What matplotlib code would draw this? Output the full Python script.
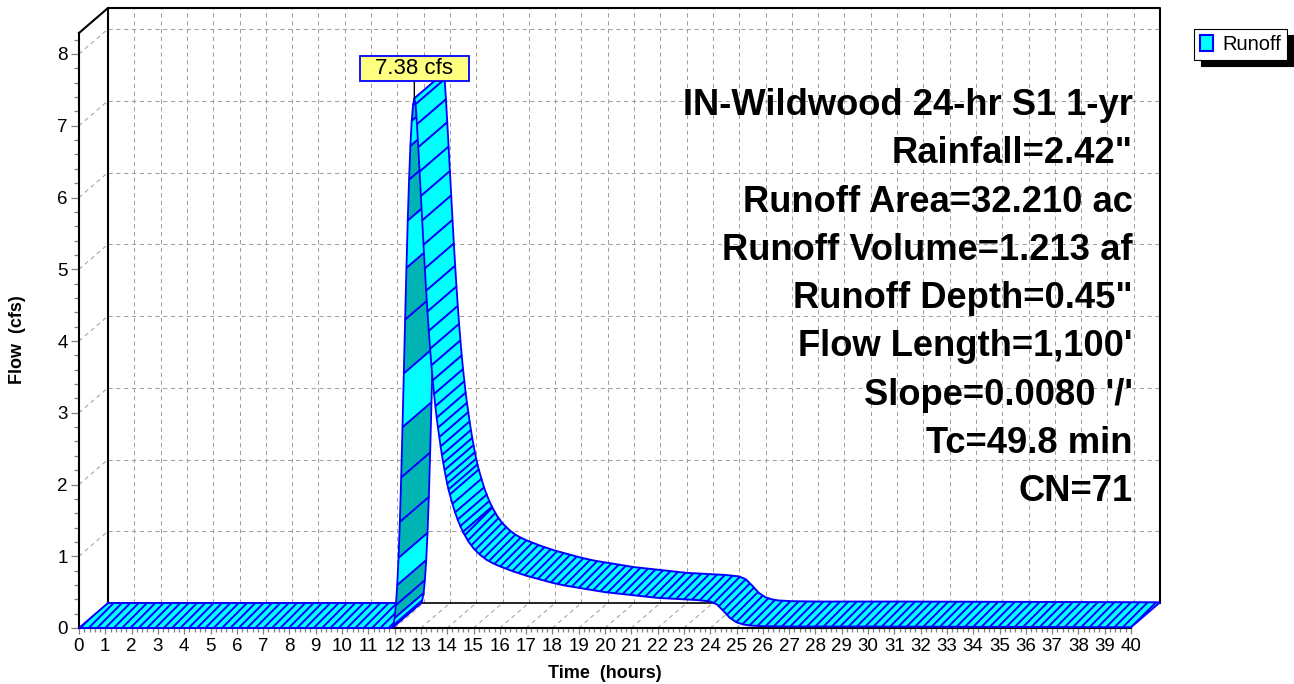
import numpy as np
import matplotlib.pyplot as plt
from matplotlib.patches import Polygon, Patch
from matplotlib.path import Path
from matplotlib.ticker import MultipleLocator

plt.rcParams['font.family'] = ['Liberation Sans', 'DejaVu Sans']
plt.rcParams['hatch.color'] = '#0000ff'
plt.rcParams['hatch.linewidth'] = 1.4

# Runoff hydrograph
t_hr = [0.00, 11.90,
        11.95, 12.00, 12.05, 12.10, 12.15, 12.20, 12.25, 12.30, 12.35, 12.40,
        12.45, 12.50, 12.55, 12.60, 12.65, 12.70, 12.75,
        12.80, 12.85, 12.90, 12.95, 13.00, 13.05, 13.10, 13.15, 13.20, 13.25,
        13.30, 13.35, 13.40, 13.45, 13.50, 13.55, 13.60, 13.65, 13.70, 13.75,
        13.80, 13.85, 13.90, 13.95, 14.00, 14.05, 14.10,
        14.20, 14.30, 14.40, 14.50, 14.60, 14.80, 15.00,
        15.25, 15.50, 15.75, 16.00,
        16.50, 17.00, 17.50, 18.00, 18.50, 19.00, 19.50, 20.00, 20.50, 21.00,
        21.50, 22.00, 22.50, 23.00, 23.50, 24.00,
        24.25, 24.50, 24.75, 25.00, 25.25, 25.50,
        26.00, 27.00, 30.00, 35.00, 40.00]
q_cfs = [0.00, 0.00,
         0.04, 0.14, 0.32, 0.60, 0.98, 1.48, 2.10, 2.80, 3.55, 4.30,
         5.02, 5.68, 6.25, 6.72, 7.07, 7.29, 7.38,
         7.30, 7.02, 6.70, 6.36, 6.02, 5.68, 5.34, 5.01, 4.70, 4.41,
         4.14, 3.89, 3.66, 3.45, 3.26, 3.09, 2.93, 2.79, 2.66, 2.53,
         2.41, 2.30, 2.20, 2.10, 2.01, 1.93, 1.86,
         1.73, 1.61, 1.51, 1.42, 1.34, 1.21, 1.11,
         1.02, 0.95, 0.90, 0.86,
         0.79, 0.73, 0.68, 0.63, 0.59, 0.56, 0.53, 0.50, 0.48, 0.46,
         0.44, 0.42, 0.41, 0.40, 0.39, 0.37,
         0.33, 0.24, 0.14, 0.08, 0.05, 0.035,
         0.025, 0.02, 0.02, 0.015, 0.01]

x_ticks = list(range(0, 41))
y_ticks = list(range(0, 9))
peak_label = '7.38 cfs'
legend_label = 'Runoff'
x_title = 'Time  (hours)'
y_title = 'Flow  (cfs)'
info_lines = ['IN-Wildwood 24-hr S1 1-yr',
              'Rainfall=2.42"',
              'Runoff Area=32.210 ac',
              'Runoff Volume=1.213 af',
              'Runoff Depth=0.45"',
              "Flow Length=1,100'",
              "Slope=0.0080 '/'",
              'Tc=49.8 min',
              'CN=71']

CYAN = '#00ffff'
TEAL = '#00b4b4'
BLUE = '#0000ff'

W, H = 1294, 684
fig = plt.figure(figsize=(W / 100, H / 100), dpi=100)

# front plane of the 3-D box (pixels)
L, R, B, T = 79, 1131, 628, 33
ax = fig.add_axes([L / W, 1 - B / H, (R - L) / W, (B - T) / H])
XMAX = x_ticks[-1]
YTOP = (B - T) / 71.75
ax.set_xlim(0, XMAX)
ax.set_ylim(0, YTOP)
sx = (R - L) / XMAX
sy = (B - T) / YTOP
DX, DY = 29 / sx, 25 / sy  # depth of the box

for s in ['top', 'right']:
    ax.spines[s].set_visible(False)
for s in ['left', 'bottom']:
    ax.spines[s].set_linewidth(1.5)
    ax.spines[s].set_color('black')

# walls: dashed grid on back wall, floor and left wall
grid_kw = dict(color='#a0a0a0', lw=0.75, ls=(0, (4, 3.5)), clip_on=False, zorder=1)
for k in x_ticks[1:-1]:
    ax.plot([k + DX, k + DX], [DY, YTOP + DY], **grid_kw)
    ax.plot([k, k + DX], [0, DY], **grid_kw)
for v in y_ticks[1:]:
    ax.plot([DX, XMAX + DX], [v + DY, v + DY], **grid_kw)
    ax.plot([0, DX], [v, v + DY], **grid_kw)

box_kw = dict(color='black', lw=1.5, clip_on=False, zorder=1.5)
ax.plot([0, DX, XMAX + DX, XMAX + DX], [YTOP, YTOP + DY, YTOP + DY, DY], **box_kw)
ax.plot([DX, DX], [DY, YTOP + DY], **box_kw)
ax.plot([DX, XMAX + DX], [DY, DY], color='black', lw=1.2, clip_on=False, zorder=1.5)

# ribbon: flat stretches hatched, steep steps drawn one quad at a time
t = np.array(t_hr)
q = np.array(q_cfs)
px = np.round(L + t * sx)
z = 3.0
i = 0
n = len(t)
while i < n - 1:
    if t[i + 1] - t[i] > 0.15:
        j = i
        while j < n - 1 and t[j + 1] - t[j] > 0.15:
            j += 1
        xs = np.r_[t[i:j + 1], t[i:j + 1][::-1] + DX]
        ys = np.r_[q[i:j + 1], q[i:j + 1][::-1] + DY]
        ax.add_patch(Polygon(np.c_[xs, ys], closed=True, facecolor=CYAN,
                             edgecolor=BLUE, lw=1.4, hatch='////',
                             zorder=z, clip_on=False))
        i = j
    else:
        dxp = (t[i + 1] - t[i]) * sx
        dyp = (q[i + 1] - q[i]) * sy
        back = dxp * 25 - dyp * 29 < 0
        face = TEAL if back and px[i + 1] - px[i] <= 1 else CYAN
        quad = [(t[i], q[i]), (t[i + 1], q[i + 1]),
                (t[i + 1] + DX, q[i + 1] + DY), (t[i] + DX, q[i] + DY)]
        ax.add_patch(Polygon(quad, closed=True, facecolor=face, edgecolor=BLUE,
                             lw=1.3, zorder=z, clip_on=False))
        i += 1
    z += 0.001


# peak label box: wide side padding, thin top/bottom padding
def label_box(x0, y0, w, h, mutation_size):
    px_, py_ = 15.5, 2.2
    x0, y0, x1, y1 = x0 - px_, y0 - py_, x0 + w + px_, y0 + h + py_
    return Path([(x0, y0), (x1, y0), (x1, y1), (x0, y1), (x0, y0)], closed=True)


ipk = int(np.argmax(q))
ax.annotate(peak_label, xy=(t[ipk], q[ipk]), xytext=(0, 30),
            textcoords='offset pixels', ha='center', va='center', fontsize=16,
            bbox=dict(boxstyle=label_box, fc='#ffff80', ec=BLUE, lw=1.3),
            arrowprops=dict(arrowstyle='-', color='black', lw=1,
                            shrinkA=0, shrinkB=0),
            zorder=10, annotation_clip=False)

# ticks
ax.set_xticks(x_ticks)
ax.set_yticks(y_ticks)
ax.xaxis.set_minor_locator(MultipleLocator(0.2))
ax.yaxis.set_minor_locator(MultipleLocator(0.2))
ax.tick_params(axis='both', which='both', color='#808080', width=0.9,
               direction='out', labelcolor='black', labelsize=13.5)
ax.tick_params(axis='x', which='major', length=4.5, pad=2.5)
ax.tick_params(axis='x', which='minor', length=3)
ax.tick_params(axis='y', which='major', length=6, pad=2)
ax.tick_params(axis='y', which='minor', length=3.5)

fig.text(605 / W, 1 - 674 / H, x_title, ha='center', va='center',
         fontsize=13, fontweight='bold')
fig.text(18 / W, 1 - 340 / H, y_title, ha='center', va='center',
         rotation=90, fontsize=13, fontweight='bold')

for k, line in enumerate(info_lines):
    fig.text(1133 / W, 1 - (105.5 + 48.3 * k) / H, line, ha='right', va='center',
             fontsize=26.2, fontweight='bold')

# legend with solid drop shadow
handle = Patch(facecolor=CYAN, edgecolor=BLUE, lw=1.5)
leg = fig.legend([handle], [legend_label], loc='upper left',
                 bbox_to_anchor=(1194 / W, 1 - 29 / H), fontsize=14.5,
                 frameon=True, fancybox=False, framealpha=1, edgecolor='black',
                 shadow={'ox': 5, 'oy': -4.5, 'facecolor': 'black',
                         'edgecolor': 'black', 'alpha': 1},
                 borderpad=0.3, handlelength=0.65, handleheight=0.8,
                 handletextpad=0.45, borderaxespad=0)
leg.get_frame().set_linewidth(0.8)

fig.savefig('out.png', dpi=100)
